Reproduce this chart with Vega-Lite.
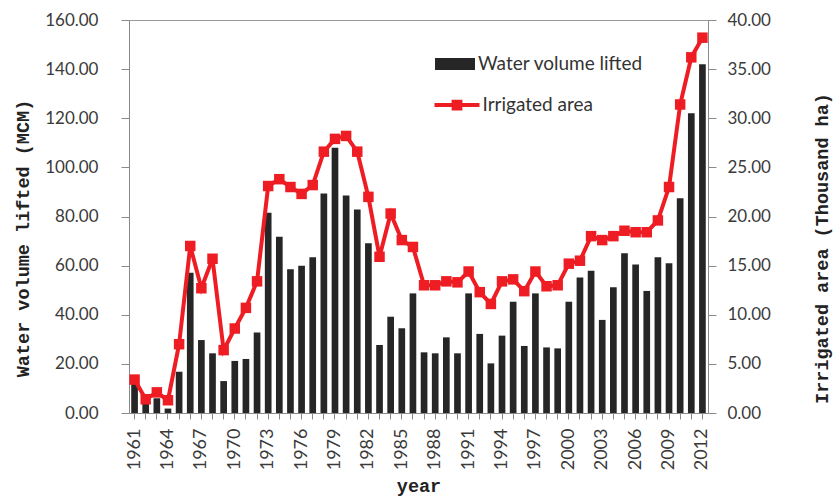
{
  "$schema": "https://vega.github.io/schema/vega-lite/v6.json",
  "autosize": "none",
  "padding": {"left": 129, "top": 20, "right": 130, "bottom": 85},
  "width": 579,
  "height": 393,
  "background": "white",
  "config": {
    "view": {"stroke": "#9a9a9a", "strokeWidth": 1},
    "axis": {
      "domainColor": "#8a8a8a",
      "tickColor": "#8a8a8a",
      "labelColor": "#3a3a3a",
      "labelFont": "Lato",
      "labelFontSize": 17,
      "titleFont": "Liberation Mono",
      "titleFontWeight": "bold",
      "titleFontSize": 18.5,
      "titleColor": "#222222",
      "grid": false
    },
    "legend": {"labelFont": "Lato", "labelFontSize": 19, "labelColor": "#333333", "labelLimit": 400}
  },
  "data": {
    "values": [
      {"year": 1961, "water": 12.0, "area": 3.4},
      {"year": 1962, "water": 4.0, "area": 1.4},
      {"year": 1963, "water": 6.0, "area": 2.1},
      {"year": 1964, "water": 1.8, "area": 1.3},
      {"year": 1965, "water": 16.8, "area": 7.0},
      {"year": 1966, "water": 57.1, "area": 17.0},
      {"year": 1967, "water": 29.7, "area": 12.7},
      {"year": 1968, "water": 24.3, "area": 15.7},
      {"year": 1969, "water": 13.0, "area": 6.4},
      {"year": 1970, "water": 21.2, "area": 8.6},
      {"year": 1971, "water": 22.0, "area": 10.7},
      {"year": 1972, "water": 32.8, "area": 13.4},
      {"year": 1973, "water": 81.5, "area": 23.1},
      {"year": 1974, "water": 71.8, "area": 23.8},
      {"year": 1975, "water": 58.5, "area": 23.0},
      {"year": 1976, "water": 60.0, "area": 22.3},
      {"year": 1977, "water": 63.4, "area": 23.2},
      {"year": 1978, "water": 89.4, "area": 26.6},
      {"year": 1979, "water": 108.0, "area": 27.9},
      {"year": 1980, "water": 88.5, "area": 28.2},
      {"year": 1981, "water": 82.9, "area": 26.6},
      {"year": 1982, "water": 69.1, "area": 22.0},
      {"year": 1983, "water": 27.7, "area": 15.9},
      {"year": 1984, "water": 39.2, "area": 20.3},
      {"year": 1985, "water": 34.5, "area": 17.6},
      {"year": 1986, "water": 48.7, "area": 16.9},
      {"year": 1987, "water": 24.7, "area": 13.0},
      {"year": 1988, "water": 24.3, "area": 13.0},
      {"year": 1989, "water": 30.8, "area": 13.4},
      {"year": 1990, "water": 24.3, "area": 13.3},
      {"year": 1991, "water": 48.7, "area": 14.4},
      {"year": 1992, "water": 32.2, "area": 12.3},
      {"year": 1993, "water": 20.2, "area": 11.1},
      {"year": 1994, "water": 31.5, "area": 13.4},
      {"year": 1995, "water": 45.3, "area": 13.6},
      {"year": 1996, "water": 27.3, "area": 12.4},
      {"year": 1997, "water": 48.7, "area": 14.4},
      {"year": 1998, "water": 26.7, "area": 12.9},
      {"year": 1999, "water": 26.3, "area": 13.0},
      {"year": 2000, "water": 45.3, "area": 15.2},
      {"year": 2001, "water": 55.2, "area": 15.5},
      {"year": 2002, "water": 57.9, "area": 18.0},
      {"year": 2003, "water": 37.9, "area": 17.6},
      {"year": 2004, "water": 51.2, "area": 18.0},
      {"year": 2005, "water": 65.0, "area": 18.55},
      {"year": 2006, "water": 60.5, "area": 18.4},
      {"year": 2007, "water": 49.7, "area": 18.4},
      {"year": 2008, "water": 63.4, "area": 19.6},
      {"year": 2009, "water": 61.0, "area": 23.0},
      {"year": 2010, "water": 87.4, "area": 31.4},
      {"year": 2011, "water": 122.0, "area": 36.2},
      {"year": 2012, "water": 142.0, "area": 38.2}
    ]
  },
  "encoding": {
    "x": {
      "field": "year",
      "type": "ordinal",
      "scale": {"paddingInner": 0.4, "paddingOuter": 0.2},
      "axis": {
        "title": "year",
        "labelAngle": -90,
        "labelFontSize": 18,
        "labelAlign": "right",
        "labelBaseline": "middle",
        "labelPadding": 9,
        "tickSize": 6,
        "labelExpr": "(datum.value - 1961) % 3 == 0 ? datum.label : ''",
        "titleX": 289.5,
        "titleY": 78,
        "titleAlign": "center",
        "titleBaseline": "alphabetic"
      }
    }
  },
  "layer": [
    {
      "mark": {"type": "bar"},
      "encoding": {
        "y": {
          "field": "water",
          "type": "quantitative",
          "scale": {"domain": [0, 160]},
          "axis": {
            "orient": "left",
            "title": "Water volume lifted (MCM)",
            "format": ".2f",
            "values": [0, 20, 40, 60, 80, 100, 120, 140, 160],
            "tickSize": 8,
            "labelPadding": 23,
            "titleAngle": -90,
            "titleX": -107,
            "titleY": 218,
            "titleAlign": "center",
            "titleBaseline": "middle"
          }
        },
        "fill": {
          "datum": "Water volume lifted",
          "scale": {"domain": ["Water volume lifted"], "range": ["#262626"]},
          "legend": {
            "title": null,
            "orient": "none",
            "legendX": 306,
            "legendY": 24,
            "padding": 0,
            "symbolType": "M-1,-0.3H1V0.3H-1Z",
            "symbolSize": 1600,
            "symbolStrokeWidth": 0,
            "symbolOpacity": 1,
            "labelOffset": 3
          }
        }
      }
    },
    {
      "mark": {"type": "line", "strokeWidth": 4},
      "encoding": {
        "y": {
          "field": "area",
          "type": "quantitative",
          "scale": {"domain": [0, 40]},
          "axis": {
            "orient": "right",
            "title": "Irrigated area (Thousand ha)",
            "format": ".2f",
            "values": [0, 5, 10, 15, 20, 25, 30, 35, 40],
            "tickSize": 8,
            "labelPadding": 11,
            "titleAngle": -90,
            "titleX": 113,
            "titleY": 228,
            "titleAlign": "center",
            "titleBaseline": "middle"
          }
        },
        "stroke": {
          "datum": "Irrigated area",
          "scale": {"domain": ["Irrigated area"], "range": ["#ee1d23"]},
          "legend": {
            "title": null,
            "orient": "none",
            "legendX": 303.5,
            "legendY": 60.5,
            "padding": 0,
            "symbolType": "M-1,0H1M-0.15,-0.15H0.15V0.15H-0.15Z",
            "symbolSize": 2025,
            "symbolStrokeWidth": 4,
            "symbolFillColor": "#ee1d23",
            "labelOffset": 1
          }
        }
      }
    },
    {
      "mark": {"type": "point", "shape": "square", "filled": true, "size": 110, "color": "#ee1d23", "opacity": 1},
      "encoding": {
        "y": {"field": "area", "type": "quantitative", "scale": {"domain": [0, 40]}, "axis": null}
      }
    }
  ],
  "resolve": {"scale": {"y": "independent"}}
}
